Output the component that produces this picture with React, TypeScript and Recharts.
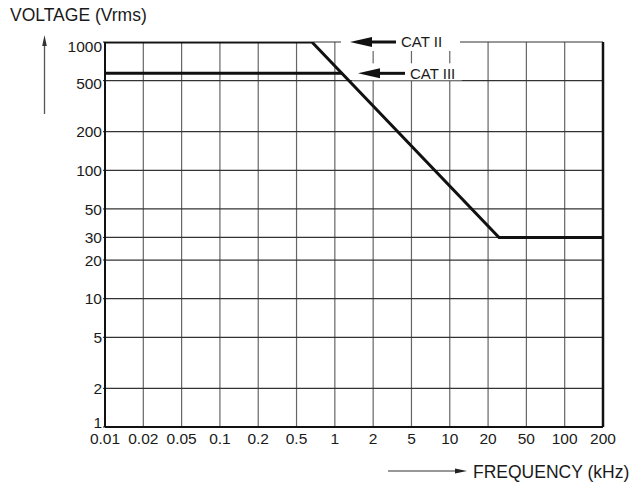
import React from 'react';
import { LineChart, Line, XAxis, YAxis, CartesianGrid, ReferenceLine, ReferenceDot } from 'recharts';

// Frequency tick labels (kHz) – evenly spaced on the chart
const xTickValues = [0.01, 0.02, 0.05, 0.1, 0.2, 0.5, 1, 2, 5, 10, 20, 50, 100, 200];
const xTickLabels = ['0.01', '0.02', '0.05', '0.1', '0.2', '0.5', '1', '2', '5', '10', '20', '50', '100', '200'];
// Voltage ticks (Vrms), log scale
const yTicks = [1, 2, 5, 10, 20, 30, 50, 100, 200, 500, 1000];

// CAT II derating curve
const catIIFreq = [0.01, 0.66, 26, 200];
const catIIVolt = [1000, 1000, 30, 30];
// CAT III limit (joins CAT II curve)
const catIIIFreq = [0.01, 1.14];
const catIIIVolt = [570, 570];

// Callout anchor points (frequency kHz, voltage)
const calloutII = { f: 1.315, v: 1000, text: 'CAT II' };
const calloutIII = { f: 1.52, v: 570, text: 'CAT III' };

const FONT = '"Liberation Sans", Arial, Helvetica, sans-serif';

// Map a frequency to its position on the evenly-spaced tick axis (log-interpolated between ticks)
function freqPos(f: number): number {
  for (let i = 0; i < xTickValues.length - 1; i++) {
    const a = xTickValues[i];
    const b = xTickValues[i + 1];
    if (f <= b || i === xTickValues.length - 2) {
      return i + Math.log(f / a) / Math.log(b / a);
    }
  }
  return 0;
}

const catIIData = catIIFreq.map((f, i) => ({ x: freqPos(f), v: catIIVolt[i] }));
const catIIIData = catIIIFreq.map((f, i) => ({ x: freqPos(f), v: catIIIVolt[i] }));
const xTickPos = xTickValues.map((_, i) => i);

const yDy: Record<number, number> = { 1: -5, 500: 3, 1000: 4 };

function YTick(props: any) {
  const { x, y, payload } = props;
  const dy = yDy[payload.value] || 0;
  return (
    <text x={x} y={y + dy} dy="0.36em" textAnchor="end" fontSize={15.5} fontFamily={FONT} fill="#1a1a1a">
      {payload.value}
    </text>
  );
}

function Callout(props: any) {
  const { cx, cy, text, boxLeft, boxRight, boxTop, boxBottom } = props;
  if (cx == null || cy == null) return null;
  const head = 22;
  const shaftEnd = text === 'CAT II' ? 46 : 47;
  const textX = text === 'CAT II' ? 51 : 52;
  return (
    <g>
      <rect x={cx - boxLeft} y={cy - boxTop} width={boxLeft + boxRight} height={boxTop + boxBottom} fill="#fff" />
      <polygon points={`${cx},${cy} ${cx + head},${cy - 5} ${cx + head},${cy + 5}`} fill="#111" />
      <line x1={cx + head - 1} x2={cx + shaftEnd} y1={cy} y2={cy} stroke="#111" strokeWidth={3} />
      <text x={cx + textX} y={cy} dy="0.36em" fontSize={15} fontFamily={FONT} fill="#1a1a1a">
        {text}
      </text>
    </g>
  );
}

export default function App() {
  return (
    <div style={{ position: 'absolute', left: 0, top: 0, width: 641, height: 483, background: '#fff' }}>
      <LineChart width={641} height={483} margin={{ top: 42, right: 38, bottom: 0, left: 0 }}>
        <CartesianGrid horizontal={false} vertical={true} stroke="#666" strokeWidth={1.2} />
        <CartesianGrid horizontal={true} vertical={false} stroke="#333" strokeWidth={1.2} />
        <XAxis
          dataKey="x"
          type="number"
          domain={[0, 13]}
          ticks={xTickPos}
          interval={0}
          tickFormatter={(v: number) => xTickLabels[v]}
          tickSize={0}
          tickMargin={6}
          height={56}
          axisLine={{ stroke: '#111', strokeWidth: 2 }}
          tick={{ fontSize: 15.5, fontFamily: FONT, fill: '#1a1a1a' }}
          allowDataOverflow
        />
        <YAxis
          type="number"
          scale="log"
          domain={[1, 1000]}
          ticks={yTicks}
          interval={0}
          width={105}
          tickSize={2}
          tickMargin={1}
          tickLine={{ stroke: '#111' }}
          axisLine={{ stroke: '#111', strokeWidth: 2 }}
          tick={<YTick />}
          allowDataOverflow
        />
        <ReferenceLine x={13} stroke="#111" strokeWidth={2.5} />
        <Line
          data={catIIIData}
          dataKey="v"
          stroke="#111"
          strokeWidth={3}
          dot={false}
          isAnimationActive={false}
          strokeLinejoin="miter"
        />
        <Line
          data={catIIData}
          dataKey="v"
          stroke="#111"
          strokeWidth={3}
          dot={false}
          isAnimationActive={false}
          strokeLinejoin="miter"
        />
        <ReferenceDot
          x={freqPos(calloutII.f)}
          y={calloutII.v}
          r={0}
          ifOverflow="visible"
          shape={(p: any) => (
            <Callout cx={p.cx} cy={p.cy} text={calloutII.text} boxLeft={9} boxRight={110} boxTop={9} boxBottom={9} />
          )}
        />
        <ReferenceDot
          x={freqPos(calloutIII.f)}
          y={calloutIII.v}
          r={0}
          ifOverflow="visible"
          shape={(p: any) => (
            <Callout cx={p.cx} cy={p.cy} text={calloutIII.text} boxLeft={6} boxRight={104} boxTop={10} boxBottom={7} />
          )}
        />
      </LineChart>
      <svg
        width={641}
        height={483}
        style={{ position: 'absolute', left: 0, top: 0, pointerEvents: 'none' }}
      >
        <text x={10} y={21} fontSize={17.5} fontFamily={FONT} fill="#1a1a1a">
          VOLTAGE (Vrms)
        </text>
        <line x1={44.5} y1={44} x2={44.5} y2={114} stroke="#555" strokeWidth={1.3} />
        <polygon points="44.5,35 42.2,46 46.8,46" fill="#333" />
        <line x1={388} y1={471} x2={458} y2={471} stroke="#333" strokeWidth={1.2} />
        <polygon points="467,471 455,468.5 455,473.5" fill="#222" />
        <text x={473} y={477.5} fontSize={17.5} fontFamily={FONT} fill="#1a1a1a">
          FREQUENCY (kHz)
        </text>
      </svg>
    </div>
  );
}
